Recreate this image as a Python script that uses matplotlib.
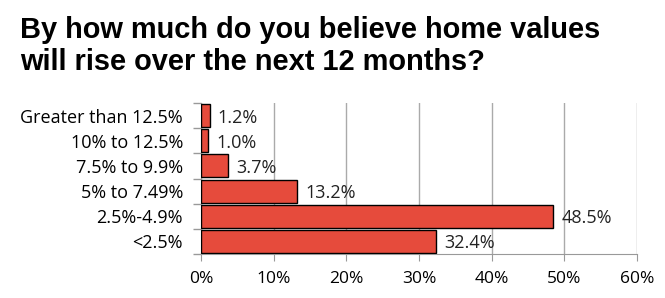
import numpy as np
import matplotlib.pyplot as plt
from matplotlib.ticker import FixedLocator, PercentFormatter

categories = ["Greater than 12.5%", "10% to 12.5%", "7.5% to 9.9%",
              "5% to 7.49%", "2.5%-4.9%", "<2.5%"]
shares = [1.2, 1.0, 3.7, 13.2, 48.5, 32.4]
x_ticks = [0, 10, 20, 30, 40, 50, 60]

fig = plt.figure(figsize=(6.65, 2.98), dpi=100)
ax = fig.add_axes([201 / 665, 1 - 254 / 298, 436 / 665, 151 / 298])

y = np.arange(len(categories))
ax.barh(y, shares, height=0.92, color="#E64B3C", edgecolor="black", linewidth=1.0, zorder=3)
for yi, v in zip(y, shares):
    ax.text(v + 1.1, yi + 0.08, "%.1f%%" % v, va="center", ha="left",
            fontsize=13, family="Open Sans", color="#222222")

ax.set_ylim(len(categories) - 0.5, -0.5)
ax.set_xlim(0, 60)
ax.set_yticks(y)
ax.set_yticklabels(categories, fontsize=13, family="Open Sans")
ax.yaxis.set_minor_locator(FixedLocator(np.arange(-0.5, len(categories), 1)))
ax.tick_params(axis="y", which="major", length=0, pad=13)
ax.tick_params(axis="y", which="minor", length=6, color="#999999", width=1)
ax.xaxis.set_major_locator(FixedLocator(x_ticks))
ax.xaxis.set_major_formatter(PercentFormatter(decimals=0))
ax.tick_params(axis="x", length=5, color="#999999", pad=7, labelsize=12.5)
for lab in ax.get_xticklabels():
    lab.set_family("Open Sans")
ax.grid(axis="x", color="#AAAAAA", linewidth=1, zorder=0)
for s in ["top", "right"]:
    ax.spines[s].set_visible(False)
for s in ["left", "bottom"]:
    ax.spines[s].set_color("#999999")

fig.text(20 / 665, 1 - 16 / 298, "By how much do you believe home values\nwill rise over the next 12 months?",
         fontsize=20.9, fontweight="bold", family="Liberation Sans", va="top", ha="left",
         linespacing=1.2)

fig.savefig("out.png", dpi=100)
